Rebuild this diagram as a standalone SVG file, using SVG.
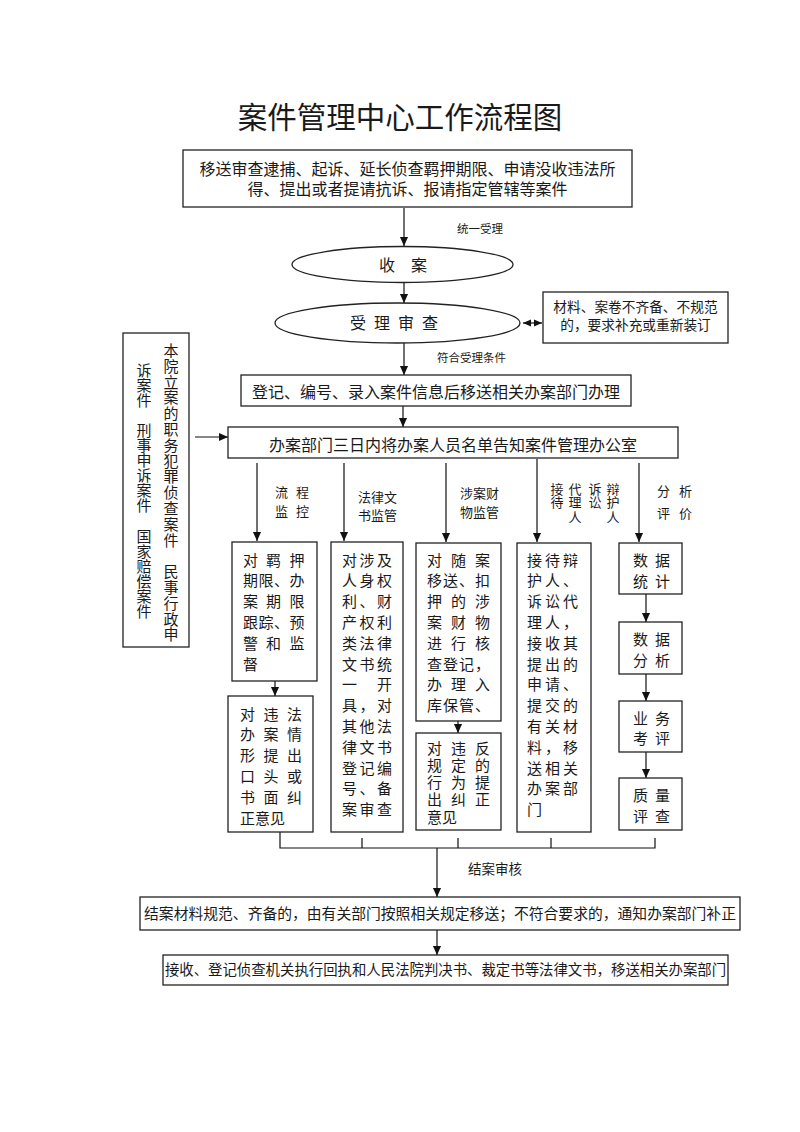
<svg xmlns="http://www.w3.org/2000/svg" width="800" height="1132" viewBox="0 0 800 1132">
<style>
.bx{fill:#fff;stroke:#222;stroke-width:1.3}
.el{fill:#fff;stroke:#222;stroke-width:1.3}
.ln{fill:none;stroke:#111;stroke-width:1.2}
.ar{fill:none;stroke:#111;stroke-width:1.2;marker-end:url(#ah)}
text{font-family:'Noto Sans CJK SC','Noto Sans CJK JP',sans-serif;fill:#1a1a1a}
.f16{font-size:16px}
.f15{font-size:15px}
.f13{font-size:13px}
.f11{font-size:11.5px}
.mid{text-anchor:middle}
</style>
<defs>
<marker id="ah" viewBox="0 0 10 10" refX="10" refY="5" markerWidth="9" markerHeight="10" markerUnits="userSpaceOnUse" orient="auto"><path d="M0,0.5 L10,5 L0,9.5 z" fill="#111"/></marker>
<marker id="ahs" viewBox="0 0 10 10" refX="10" refY="5" markerWidth="8" markerHeight="8" markerUnits="userSpaceOnUse" orient="auto-start-reverse"><path d="M0,0.5 L10,5 L0,9.5 z" fill="#111"/></marker>
</defs>
<rect width="800" height="1132" fill="#fff"/>

<text id="title" x="400" y="128" class="mid" style="font-size:29.5px">案件管理中心工作流程图</text>

<g id="connectors">
<line class="ar" x1="404" y1="208" x2="404" y2="246"/>
<line class="ar" x1="404" y1="283" x2="404" y2="303"/>
<line x1="523" y1="323" x2="542" y2="323" stroke="#111" stroke-width="1.2" marker-start="url(#ahs)" marker-end="url(#ahs)"/>
<line class="ar" x1="404" y1="343" x2="404" y2="375"/>
<line class="ar" x1="403" y1="406" x2="403" y2="427"/>
<line class="ar" x1="195" y1="437" x2="228" y2="437"/>
<line class="ar" x1="257" y1="463" x2="257" y2="541"/>
<line class="ar" x1="344" y1="463" x2="344" y2="541"/>
<line class="ar" x1="446" y1="463" x2="446" y2="542"/>
<line class="ar" x1="537" y1="459" x2="537" y2="542"/>
<line class="ar" x1="639" y1="463" x2="639" y2="542"/>
<line class="ar" x1="275" y1="681" x2="275" y2="696"/>
<line class="ar" x1="458" y1="721" x2="458" y2="733"/>
<line class="ar" x1="646" y1="594" x2="646" y2="622"/>
<line class="ar" x1="646" y1="674" x2="646" y2="701"/>
<line class="ar" x1="646" y1="752" x2="646" y2="778"/>
<path class="ln" d="M280,832 V848 H655 V838 M362,838 V848 M458,838 V848 M551,838 V848"/>
<line class="ar" x1="437" y1="848" x2="437" y2="897"/>
<line class="ar" x1="437" y1="930" x2="437" y2="955"/>
<text x="457" y="233" class="f11">统一受理</text>
<text x="437" y="361.5" class="f11">符合受理条件</text>
<text x="275 296" y="497" class="f13">流程</text>
<text x="275 296" y="516" class="f13">监控</text>
<text x="358" y="502" class="f13">法律文</text>
<text x="358" y="520" class="f13">书监管</text>
<text x="460" y="498" class="f13">涉案财</text>
<text x="460" y="517" class="f13">物监管</text>
<text x="557 557" y="493.5 507" class="f13 mid">接待</text>
<text x="575 575 575" y="493.5 507 522" class="f13 mid">代理人</text>
<text x="595 595" y="493.5 507" class="f13 mid">诉讼</text>
<text x="613 613 613" y="493.5 507 522" class="f13 mid">辩护人</text>
<text x="657 679" y="496" class="f13">分析</text>
<text x="657 679" y="517.5" class="f13">评价</text>
<text x="468" y="874" style="font-size:13.5px">结案审核</text>
</g>

<g id="n-source">
<rect class="bx" x="183" y="150" width="449" height="57"/>
<text x="407.5" y="175" class="f16 mid">移送审查逮捕、起诉、延长侦查羁押期限、申请没收违法所</text>
<text x="407.5" y="195" class="f16 mid">得、提出或者提请抗诉、报请指定管辖等案件</text>
</g>

<g id="n-receive">
<ellipse class="el" cx="402.5" cy="264.5" rx="110.5" ry="18"/>
<text x="403" y="271" class="f16 mid">收　案</text>
</g>

<g id="n-review">
<ellipse class="el" cx="397.5" cy="323" rx="122.5" ry="20"/>
<text x="350 374 398 422" y="329" class="f16">受理审查</text>
</g>

<g id="n-supplement">
<rect class="bx" x="543" y="292" width="185" height="51"/>
<text x="635.5" y="312" class="mid" style="font-size:13.7px">材料、案卷不齐备、不规范</text>
<text x="635.5" y="330" class="mid" style="font-size:13.7px">的，要求补充或重新装订</text>
</g>

<g id="n-register">
<rect class="bx" x="241" y="375" width="390" height="31"/>
<text x="436" y="397.5" class="f16 mid">登记、编号、录入案件信息后移送相关办案部门办理</text>
</g>

<g id="n-own">
<rect class="bx" x="123" y="333" width="66" height="314"/>
<text x="171 171 171 171 171 171 171 171 171 171 171 171 171 171 171 171 171 171 171" y="356 371.8 387.6 403.4 419.2 435 450.8 466.6 482.4 498.2 514 529.8 545.6 561.4 577.2 593 608.8 624.6 640.4" class="f15 mid">本院立案的职务犯罪侦查案件　民事行政申</text>
<text x="144 144 144 144 144 144 144 144 144 144 144 144 144 144 144 144 144" y="375.5 390.6 405.7 420.8 435.9 451 466.1 481.2 496.3 511.4 526.5 541.6 556.7 571.8 586.9 602 617.1" class="f15 mid">诉案件　刑事申诉案件　国家赔偿案件</text>
</g>

<g id="n-office">
<rect class="bx" x="228" y="427" width="450" height="31"/>
<text x="453" y="451" class="f16 mid">办案部门三日内将办案人员名单告知案件管理办公室</text>
</g>

<g id="n-flow1">
<rect class="bx" x="232" y="542" width="85" height="139"/>
<text x="243 266 289.5" y="565.5" class="f15">对羁押</text>
<text x="243 258.5 274 289.5" y="586.3" class="f15">期限、办</text>
<text x="243 266 289.5" y="607.1" class="f15">案期限</text>
<text x="243 258.5 274 289.5" y="627.9" class="f15">跟踪、预</text>
<text x="243 266 289.5" y="648.7" class="f15">警和监</text>
<text x="243" y="669.5" class="f15">督</text>
</g>

<g id="n-flow2">
<rect class="bx" x="228" y="696" width="85" height="136"/>
<text x="240 263.5 287" y="719.5" class="f15">对违法</text>
<text x="240 263.5 287" y="740.3" class="f15">办案情</text>
<text x="240 263.5 287" y="761.1" class="f15">形提出</text>
<text x="240 263.5 287" y="781.9" class="f15">口头或</text>
<text x="240 263.5 287" y="802.7" class="f15">书面纠</text>
<text x="240" y="823.5" class="f15">正意见</text>
</g>

<g id="n-docs">
<rect class="bx" x="331" y="542" width="72" height="290"/>
<text x="342 359.5 377" y="565.5" class="f15">对涉及</text>
<text x="342 359.5 377" y="586.3" class="f15">人身权</text>
<text x="342 359.5 377" y="607.1" class="f15">利、财</text>
<text x="342 359.5 377" y="627.9" class="f15">产权利</text>
<text x="342 359.5 377" y="648.7" class="f15">类法律</text>
<text x="342 359.5 377" y="669.5" class="f15">文书统</text>
<text x="342 359.5 377" y="690.3" class="f15">一　开</text>
<text x="342 359.5 377" y="711.1" class="f15">具，对</text>
<text x="342 359.5 377" y="731.9" class="f15">其他法</text>
<text x="342 359.5 377" y="752.7" class="f15">律文书</text>
<text x="342 359.5 377" y="773.5" class="f15">登记编</text>
<text x="342 359.5 377" y="794.3" class="f15">号、备</text>
<text x="342 359.5 377" y="815.1" class="f15">案审查</text>
</g>

<g id="n-property1">
<rect class="bx" x="416" y="543" width="85" height="178"/>
<text x="427 451 475" y="565.5" class="f15">对随案</text>
<text x="427 443 459 475" y="586.3" class="f15">移送、扣</text>
<text x="427 451 475" y="607.1" class="f15">押的涉</text>
<text x="427 451 475" y="627.9" class="f15">案财物</text>
<text x="427 451 475" y="648.7" class="f15">进行核</text>
<text x="427 443 459 475" y="669.5" class="f15">查登记，</text>
<text x="427 451 475" y="690.3" class="f15">办理入</text>
<text x="427 443 459 475" y="711.1" class="f15">库保管、</text>
</g>

<g id="n-property2">
<rect class="bx" x="416" y="733" width="85" height="97"/>
<text x="427 451 475" y="753.5" class="f15">对违反</text>
<text x="427 451 475" y="770.8" class="f15">规定的</text>
<text x="427 451 475" y="788.1" class="f15">行为提</text>
<text x="427 451 475" y="805.4" class="f15">出纠正</text>
<text x="427" y="822.7" class="f15">意见</text>
</g>

<g id="n-lawyer">
<rect class="bx" x="517" y="543" width="74" height="289"/>
<text x="527 545 563" y="565.5" class="f15">接待辩</text>
<text x="527 545 563" y="586.3" class="f15">护人、</text>
<text x="527 545 563" y="607.1" class="f15">诉讼代</text>
<text x="527 545 563" y="627.9" class="f15">理人，</text>
<text x="527 545 563" y="648.7" class="f15">接收其</text>
<text x="527 545 563" y="669.5" class="f15">提出的</text>
<text x="527 545 563" y="690.3" class="f15">申请、</text>
<text x="527 545 563" y="711.1" class="f15">提交的</text>
<text x="527 545 563" y="731.9" class="f15">有关材</text>
<text x="527 545 563" y="752.7" class="f15">料，移</text>
<text x="527 545 563" y="773.5" class="f15">送相关</text>
<text x="527 545 563" y="794.3" class="f15">办案部</text>
<text x="527" y="815.1" class="f15">门</text>
</g>

<g id="n-stat">
<rect class="bx" x="619" y="543" width="63" height="51"/>
<text x="633 655" y="565.5" class="f15">数据</text>
<text x="633 655" y="586.5" class="f15">统计</text>
</g>
<g id="n-analysis">
<rect class="bx" x="619" y="622" width="63" height="52"/>
<text x="633 655" y="644.5" class="f15">数据</text>
<text x="633 655" y="665.5" class="f15">分析</text>
</g>
<g id="n-assess">
<rect class="bx" x="619" y="701" width="63" height="51"/>
<text x="633 655" y="723.5" class="f15">业务</text>
<text x="633 655" y="743.5" class="f15">考评</text>
</g>
<g id="n-quality">
<rect class="bx" x="619" y="778" width="63" height="52"/>
<text x="633 655" y="800.5" class="f15">质量</text>
<text x="633 655" y="821.5" class="f15">评查</text>
</g>

<g id="n-close">
<rect class="bx" x="140" y="897" width="600" height="33"/>
<text x="440" y="918.5" class="mid" style="font-size:14.8px">结案材料规范、齐备的，由有关部门按照相关规定移送；不符合要求的，通知办案部门补正</text>
</g>

<g id="n-receipt">
<rect class="bx" x="163" y="955" width="565" height="30"/>
<text x="445.5" y="975" class="mid" style="font-size:14.4px">接收、登记侦查机关执行回执和人民法院判决书、裁定书等法律文书，移送相关办案部门</text>
</g>
</svg>
